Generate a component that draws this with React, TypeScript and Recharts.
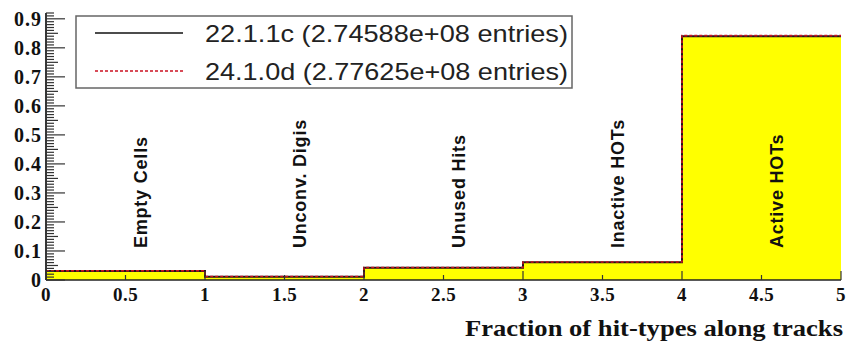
import React from "react";
import {
  Area,
  ComposedChart,
  Line,
  ReferenceDot,
  XAxis,
  YAxis,
} from "recharts";

// hit-type bins along tracks
const binEdges = [0, 1, 2, 3, 4, 5];
const binNames = ["Empty Cells", "Unconv. Digis", "Unused Hits", "Inactive HOTs", "Active HOTs"];
const frac22 = [0.031, 0.011, 0.042, 0.061, 0.84];
const frac24 = [0.032, 0.012, 0.043, 0.062, 0.842];

const legend22 = "22.1.1c (2.74588e+08 entries)";
const legend24 = "24.1.0d (2.77625e+08 entries)";

const xTicks = [0, 0.5, 1, 1.5, 2, 2.5, 3, 3.5, 4, 4.5, 5];
const xTickLabels = ["0", "0.5", "1", "1.5", "2", "2.5", "3", "3.5", "4", "4.5", "5"];
const yMajor = [0, 0.1, 0.2, 0.3, 0.4, 0.5, 0.6, 0.7, 0.8, 0.9];
const yMajorLabels = ["0", "0.1", "0.2", "0.3", "0.4", "0.5", "0.6", "0.7", "0.8", "0.9"];

const W = 846;
const H = 343;

// step outline: one point per bin edge, last edge repeats the last bin
const stepData = binEdges.map((x, i) => {
  const k = Math.min(i, frac22.length - 1);
  return { x, h22: frac22[k], h24: frac24[k] };
});

// minor y ticks every 0.01 up to the frame top
const yTicks: number[] = [];
for (let i = 0; i <= 92; i++) yTicks.push(i / 100);

const serif = "'Liberation Serif', 'DejaVu Serif', serif";
const sans = "'Liberation Sans', Arial, sans-serif";

function YTick(props: any) {
  const { x, y, payload } = props;
  const v = payload.value as number;
  const idx = yMajor.findIndex((m) => Math.abs(m - v) < 1e-6);
  const mid = Math.abs(v * 20 - Math.round(v * 20)) < 1e-6;
  const len = idx >= 0 ? 19 : mid ? 12 : 8;
  return (
    <g>
      <line x1={x + 4} x2={x + 4 + len} y1={y} y2={y} stroke="#333" strokeWidth={1.2} />
      {idx >= 0 && (
        <text
          x={x}
          y={y}
          dy="0.35em"
          textAnchor="end"
          fontFamily={serif}
          fontWeight="bold"
          fontSize={20}
          letterSpacing={1}
          fill="#111"
        >
          {yMajorLabels[idx]}
        </text>
      )}
    </g>
  );
}

function XTick(props: any) {
  const { x, y, payload } = props;
  const v = payload.value as number;
  const idx = xTicks.findIndex((t) => Math.abs(t - v) < 1e-6);
  const len = Number.isInteger(v) ? 9 : 5;
  return (
    <g>
      <line x1={x} x2={x} y1={y - 8} y2={y - 8 - len} stroke="#333" strokeWidth={1.2} />
      <text
        x={x}
        y={y}
        dy="0.71em"
        textAnchor="middle"
        fontFamily={serif}
        fontWeight="bold"
        fontSize={19}
        letterSpacing={0.5}
        fill="#111"
      >
        {xTickLabels[idx]}
      </text>
    </g>
  );
}

function BinLabel(props: any) {
  const { cx, cy, name } = props;
  return (
    <text
      x={cx}
      y={cy}
      transform={`rotate(-90, ${cx}, ${cy})`}
      dominantBaseline="central"
      textAnchor="start"
      fontFamily={sans}
      fontWeight="bold"
      fontSize={18}
      letterSpacing={0.8}
      fill="#111"
    >
      {name}
    </text>
  );
}

function AxisTitle() {
  return (
    <text
      x={843}
      y={336}
      textAnchor="end"
      fontFamily={serif}
      fontWeight="bold"
      fontSize={23}
      textLength={378}
      lengthAdjust="spacingAndGlyphs"
      fill="#111"
    >
      Fraction of hit-types along tracks
    </text>
  );
}

function HistLegend() {
  return (
    <svg
      width={499}
      height={75}
      style={{ position: "absolute", left: 75, top: 15 }}
    >
      <rect x={1} y={1} width={496} height={72} fill="#fff" stroke="#666" strokeWidth={1.5} />
      <line x1={20} x2={108} y1={18} y2={18} stroke="#111" strokeWidth={1.5} />
      <line x1={20} x2={108} y1={56} y2={56} stroke="#cc1122" strokeWidth={1.5} strokeDasharray="3 2" />
      <text x={130} y={27} fontFamily={sans} fontSize={24} fill="#222" textLength={363} lengthAdjust="spacingAndGlyphs">
        {legend22}
      </text>
      <text x={130} y={65} fontFamily={sans} fontSize={24} fill="#222" textLength={363} lengthAdjust="spacingAndGlyphs">
        {legend24}
      </text>
    </svg>
  );
}

export default function App() {
  return (
    <div style={{ position: "absolute", left: 0, top: 0, width: W, height: H, background: "#fff" }}>
      <ComposedChart
        width={W}
        height={H}
        data={stepData}
        margin={{ top: 13, right: 5, left: 0, bottom: 0 }}
      >
        <XAxis
          xAxisId="frame"
          orientation="top"
          type="number"
          dataKey="x"
          domain={[0, 5]}
          height={0}
          tick={false}
          tickLine={false}
          axisLine={{ stroke: "#666", strokeWidth: 1.5 }}
        />
        <YAxis
          yAxisId="frame"
          orientation="right"
          type="number"
          domain={[0, 0.92]}
          width={0}
          tick={false}
          tickLine={false}
          axisLine={{ stroke: "#666", strokeWidth: 1.5 }}
        />
        <XAxis
          type="number"
          dataKey="x"
          domain={[0, 5]}
          ticks={xTicks}
          interval={0}
          height={63}
          tickSize={0}
          tickMargin={8}
          tickLine={false}
          tick={<XTick />}
          axisLine={{ stroke: "#222", strokeWidth: 1.5 }}
          label={{ content: () => <AxisTitle /> }}
        />
        <YAxis
          type="number"
          domain={[0, 0.92]}
          ticks={yTicks}
          interval={0}
          width={46}
          tickSize={0}
          tickMargin={4}
          tickLine={false}
          tick={<YTick />}
          axisLine={{ stroke: "#222", strokeWidth: 1.8 }}
          allowDataOverflow
        />
        <Area
          dataKey="h22"
          type="stepAfter"
          fill="#ffff00"
          fillOpacity={1}
          stroke="#1a1a1a"
          strokeWidth={2}
          isAnimationActive={false}
          dot={false}
          activeDot={false}
        />
        <Line
          dataKey="h24"
          type="stepAfter"
          stroke="#cc1122"
          strokeWidth={1.6}
          strokeDasharray="3 2"
          dot={false}
          activeDot={false}
          isAnimationActive={false}
        />
        {binNames.map((name, i) => (
          <ReferenceDot
            key={name}
            x={binEdges[i] + 0.6}
            y={0.11}
            r={0}
            shape={(p: any) => <BinLabel {...p} name={name} />}
          />
        ))}
      </ComposedChart>
      <HistLegend />
    </div>
  );
}
